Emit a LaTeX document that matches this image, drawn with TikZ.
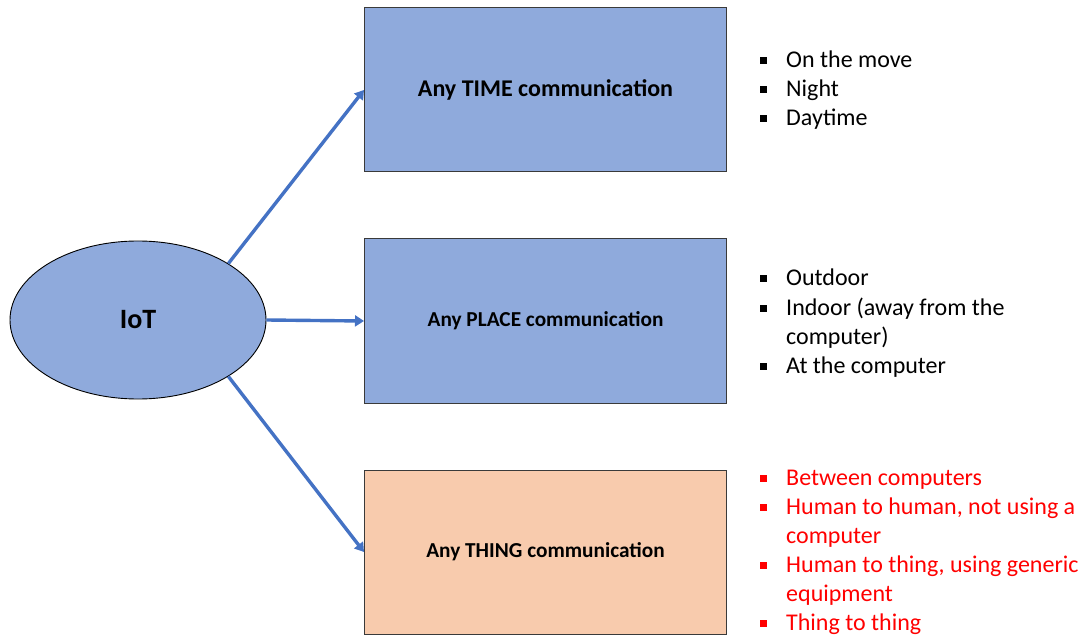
\documentclass[tikz,border=0pt]{standalone}
\usepackage{fontspec}
\setmainfont{Carlito}
\usetikzlibrary{shapes.geometric,arrows.meta}

\definecolor{boxblue}{HTML}{8FAADC}
\definecolor{boxpeach}{HTML}{F8CBAD}
\definecolor{linkblue}{HTML}{4472C4}
\definecolor{edgegray}{HTML}{3A3A3A}
\definecolor{listred}{HTML}{FF0000}

\newcommand{\sqbullet}{\makebox[26pt][l]{\rule[3.5pt]{7pt}{7pt}}}

\tikzset{
  catbox/.style={draw=edgegray, line width=1pt, minimum width=362pt,
    minimum height=164pt, inner sep=0pt, anchor=north west,
    font=\fontsize{21.3}{25}\selectfont\bfseries},
  hub/.style={ellipse, draw=black, line width=0.9pt, fill=boxblue,
    minimum width=256pt, minimum height=158pt, inner sep=0pt,
    font=\fontsize{28}{32}\selectfont\bfseries},
  link/.style={draw=linkblue, line width=3.4pt,
    -{Triangle[length=9pt,width=11pt]}},
  item/.style={anchor=base west, inner sep=0pt,
    font=\fontsize{24}{29}\selectfont},
}

\begin{document}
\begin{tikzpicture}[x=1pt,y=-1pt]
\useasboundingbox (0,0) rectangle (1089,636);

% central hub
\node[hub] (iot) at (138,320) {IoT};

% the three categories
\node[catbox, fill=boxblue, font=\fontsize{24}{28}\selectfont\bfseries]
  (time) at (364,7.5) {Any TIME communication};
\node[catbox, fill=boxblue, minimum height=165pt] (place) at (364,238) {Any PLACE communication};
\node[catbox, fill=boxpeach] (thing) at (364,469.5) {Any THING communication};

% connectors
\draw[link] (iot.32) -- (time.west);
\draw[link] (iot.east) -- (place.west);
\draw[link] (iot.-32) -- (thing.west);

% TIME list
\node[item] (t1) at (760,68)  {\sqbullet On the move};
\node[item] (t2) at (760,97)  {\sqbullet Night};
\node[item] (t3) at (760,126) {\sqbullet Daytime};

% PLACE list
\node[item] (p1) at (760,286) {\sqbullet Outdoor};
\node[item] (p2) at (760,315) {\sqbullet Indoor (away from the};
\node[item] (p2b) at (786,344) {computer)};
\node[item] (p3) at (760,373) {\sqbullet At the computer};

% THING list
\begin{scope}[every node/.append style={text=listred}]
\node[item] (h1) at (760,485) {\sqbullet Between computers};
\node[item] (h2) at (760,514) {\sqbullet Human to human, not using a};
\node[item] (h2b) at (786,543) {computer};
\node[item] (h3) at (760,572) {\sqbullet Human to thing, using generic};
\node[item] (h3b) at (786,601) {equipment};
\node[item] (h4) at (760,630) {\sqbullet Thing to thing};
\end{scope}
\end{tikzpicture}
\end{document}
